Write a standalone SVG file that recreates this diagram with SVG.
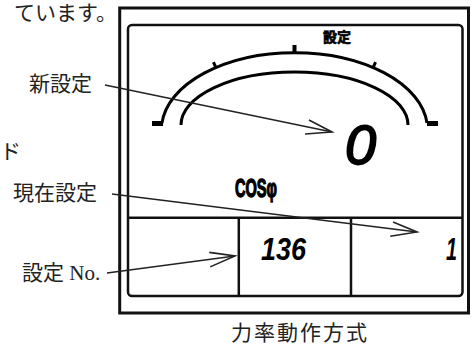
<svg xmlns="http://www.w3.org/2000/svg" width="475" height="347" viewBox="0 0 475 347">
<style>
.lbl{font-family:"Liberation Serif","Noto Sans CJK JP",serif;font-size:21px;fill:#222}
.frame{fill:none;stroke:#111;stroke-width:3}
.line{fill:none;stroke:#111;stroke-width:2.5}
.arc{fill:none;stroke:#000;stroke-width:3}
.seg{font-family:"Liberation Sans",Arial,sans-serif;font-weight:bold;font-style:italic;fill:#000}
.conn{fill:none;stroke:#222;stroke-width:1.5}
</style>
<defs>
<marker id="arr" markerUnits="userSpaceOnUse" markerWidth="40" markerHeight="30" refX="0" refY="0" orient="auto" overflow="visible">
<path d="M-25,-7 L0,0 L-26,7.5" fill="none" stroke="#222" stroke-width="1.6"/>
</marker>
</defs>
<rect width="475" height="347" fill="#fff"/>
<text class="lbl" x="14" y="20" font-size="19">ています。</text>
<text class="lbl" x="0" y="159" font-size="18">ド</text>
<g id="display">
<rect class="frame" x="119.7" y="8" width="348.8" height="305"/>
<rect class="line" x="128" y="25" width="334.5" height="271" rx="4"/>
<line class="line" x1="128" y1="217.7" x2="462.5" y2="217.7"/>
<line class="line" x1="238.8" y1="217.7" x2="238.8" y2="296"/>
<line class="line" x1="351" y1="217.7" x2="351" y2="296"/>
</g>
<g id="gauge">
<path class="arc" d="M162,123 A133,77 0 0 1 427,123"/>
<path class="arc" d="M181,125 A113.5,53 0 0 1 408,125"/>
<rect x="152" y="121" width="11" height="5"/>
<rect x="427" y="121" width="11" height="5"/>
<rect x="292.5" y="45" width="4" height="8"/>
<rect x="213" y="62" width="3" height="5" transform="rotate(-25 214.5 64.5)"/>
<rect x="373" y="62" width="3" height="5" transform="rotate(25 374.5 64.5)"/>
<text x="337" y="42" text-anchor="middle" font-family="Noto Sans CJK JP,sans-serif" font-weight="bold" font-size="14" fill="#000" stroke="#000" stroke-width="0.6">設定</text>
</g>
<g id="value-new"><text class="seg" x="345" y="164" font-size="56" style="font-weight:normal" stroke="#000" stroke-width="1.8">0</text></g>
<g id="cos"><text x="235" y="197" font-family="Liberation Sans,Arial,sans-serif" font-weight="bold" font-size="26" textLength="42" lengthAdjust="spacingAndGlyphs" fill="#000" stroke="#000" stroke-width="1.4">COSφ</text></g>
<g id="value-no"><text class="seg" x="261" y="260" font-size="31" textLength="45" lengthAdjust="spacingAndGlyphs">136</text></g>
<g id="value-cur"><text class="seg" x="446" y="260" font-size="31" textLength="11" lengthAdjust="spacingAndGlyphs">1</text></g>
<g id="label-new"><text class="lbl" x="29" y="91">新設定</text></g>
<g id="label-cur"><text class="lbl" x="13" y="200">現在設定</text></g>
<g id="label-no"><text class="lbl" x="22" y="280">設定 No.</text></g>
<g id="caption"><text class="lbl" x="231" y="340" letter-spacing="2">力率動作方式</text></g>
<g id="connectors">
<line class="conn" x1="105" y1="85" x2="332" y2="132" marker-end="url(#arr)"/>
<line class="conn" x1="112" y1="194" x2="417" y2="232" marker-end="url(#arr)"/>
<line class="conn" x1="107" y1="273" x2="235" y2="256" marker-end="url(#arr)"/>
</g>
</svg>
